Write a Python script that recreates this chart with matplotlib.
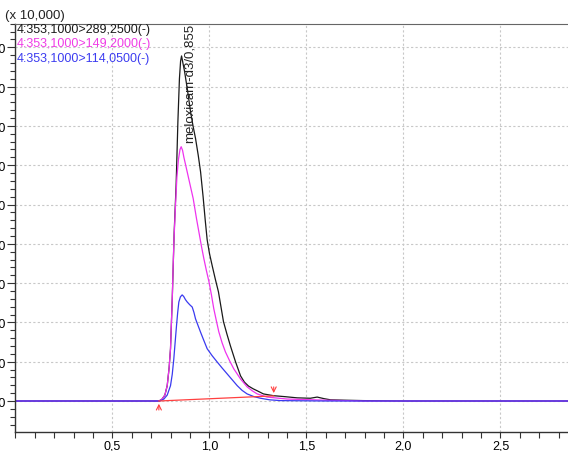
import matplotlib
matplotlib.use('Agg')
import matplotlib.pyplot as plt
from matplotlib.ticker import MultipleLocator, FuncFormatter

plt.rcParams['font.family'] = ['Liberation Sans', 'DejaVu Sans']

# retention time (min) / intensity (x 10,000)
black_t = [0.0, 0.740, 0.756, 0.770, 0.782, 0.792, 0.799, 0.808, 0.818, 0.828, 0.837,
           0.845, 0.851, 0.856, 0.863, 0.871, 0.885, 0.902, 0.915, 0.928, 0.942, 0.954,
           0.967, 0.978, 0.988, 1.000, 1.014, 1.030, 1.046, 1.059, 1.072, 1.090, 1.108,
           1.134, 1.160, 1.180, 1.201, 1.225, 1.246, 1.278, 1.330, 1.390, 1.452, 1.520,
           1.555, 1.590, 1.624, 1.700, 1.794, 2.0, 2.85]
black_y = [0.0, 0.0, 0.05, 0.15, 0.39, 0.85, 1.33, 2.6, 4.3, 5.5, 7.1,
           8.2, 8.65, 8.78, 8.6, 8.4, 7.96, 7.37, 7.0, 6.68, 6.25, 5.83,
           5.2, 4.6, 4.1, 3.75, 3.44, 3.1, 2.78, 2.4, 2.02, 1.70, 1.40,
           1.0, 0.64, 0.48, 0.38, 0.31, 0.26, 0.18, 0.135, 0.11, 0.08, 0.07,
           0.10, 0.06, 0.03, 0.02, 0.01, 0.0, 0.0]

magenta_t = [0.0, 0.740, 0.756, 0.770, 0.782, 0.792, 0.799, 0.808, 0.816, 0.824, 0.832,
             0.840, 0.848, 0.854, 0.861, 0.868, 0.885, 0.900, 0.916, 0.933, 0.945, 0.958,
             0.971, 0.984, 0.997, 1.010, 1.022, 1.035, 1.048, 1.065, 1.082, 1.104, 1.125,
             1.160, 1.194, 1.220, 1.246, 1.297, 1.40, 1.60, 1.80, 2.85]
magenta_y = [0.0, 0.0, 0.05, 0.15, 0.39, 0.85, 1.33, 2.6, 4.0, 4.9, 5.7,
             6.15, 6.4, 6.47, 6.38, 6.2, 5.83, 5.5, 5.15, 4.64, 4.31, 3.95,
             3.62, 3.32, 3.04, 2.70, 2.35, 2.05, 1.76, 1.48, 1.25, 1.02, 0.82,
             0.56, 0.36, 0.26, 0.18, 0.10, 0.05, 0.02, 0.0, 0.0]

blue_t = [0.0, 0.745, 0.765, 0.782, 0.799, 0.808, 0.816, 0.823, 0.830, 0.836, 0.842,
          0.850, 0.859, 0.867, 0.876, 0.885, 0.898, 0.911, 0.920, 0.928, 0.941, 0.954,
          0.970, 0.988, 1.014, 1.040, 1.065, 1.091, 1.117, 1.143, 1.168, 1.194, 1.230,
          1.263, 1.310, 1.366, 1.60, 2.85]
blue_y = [0.0, 0.0, 0.05, 0.15, 0.39, 0.68, 1.07, 1.50, 1.92, 2.25, 2.52,
          2.65, 2.70, 2.66, 2.58, 2.52, 2.45, 2.39, 2.25, 2.09, 1.92, 1.75,
          1.55, 1.33, 1.15, 0.99, 0.84, 0.69, 0.54, 0.39, 0.27, 0.18, 0.11,
          0.07, 0.03, 0.01, 0.0, 0.0]

# integration baseline of the peak
base_t = [0.739, 1.331]
base_y = [0.0, 0.13]

traces = [
    ("4:353,1000>289,2500(-)", black_t, black_y, "#1a1a1a", "#1a1a1a"),
    ("4:353,1000>149,2000(-)", magenta_t, magenta_y, "#ee33ee", "#f03ce6"),
    ("4:353,1000>114,0500(-)", blue_t, blue_y, "#3a3af0", "#3c3cf0"),
]
peak_label = "meloxicam-d3/0,855"
red = "#ff4040"

W, H = 568, 452
fig = plt.figure(figsize=(W / 100, H / 100), dpi=100)
ax = fig.add_axes([15.5 / W, 19 / H, (W - 15.5) / W, (433 - 24.5) / H])

for name, t, y, c, _ in traces:
    ax.plot(t, y, color=c, lw=0.9)

ax.plot(base_t, base_y, color=red, lw=0.9)
ax.annotate("", xy=(base_t[0], base_y[0]), xytext=(base_t[0], base_y[0] - 0.3),
            arrowprops=dict(arrowstyle="->", color=red, lw=0.8, mutation_scale=9))
ax.annotate("", xy=(base_t[1], base_y[1]), xytext=(base_t[1], base_y[1] + 0.3),
            arrowprops=dict(arrowstyle="->", color=red, lw=0.8, mutation_scale=9))

ax.set_xlim(0, (W - 15.5) / 194)
ax.set_ylim(-(433 - 402) / 39.3, (402 - 24.5) / 39.3)

ax.xaxis.set_major_locator(MultipleLocator(0.5))
ax.xaxis.set_minor_locator(MultipleLocator(0.1))
ax.yaxis.set_major_locator(MultipleLocator(1.0))
ax.yaxis.set_minor_locator(MultipleLocator(0.2))
ax.xaxis.set_major_formatter(
    FuncFormatter(lambda v, p: "" if abs(v) < 1e-9 else f"{v:.1f}".replace(".", ",")))
ax.yaxis.set_major_formatter(FuncFormatter(lambda v, p: f"{v:.1f}".replace(".", ",")))

ax.tick_params(axis='x', which='both', direction='out', length=4, width=0.8,
               labelsize=9, pad=1.5, color='#333333')
ax.tick_params(axis='y', which='major', direction='out', length=5.5, width=0.8,
               labelsize=9, pad=1.5, color='#333333')
ax.tick_params(axis='y', which='minor', direction='out', length=3.5, width=0.8,
               color='#333333')

ax.grid(True, which='major', color='#c8c8c8', lw=0.8, linestyle=(0, (2, 2)))
ax.spines['right'].set_visible(False)
ax.spines['top'].set_color('#666666')
for s in ['left', 'bottom']:
    ax.spines[s].set_color('#333333')
    ax.spines[s].set_linewidth(1.0)

# channel names in the top-left corner
for i, (name, t, y, _, tc) in enumerate(traces):
    fig.text(17 / W, 1 - (30 + 14.5 * i) / H, name, color=tc, fontsize=9,
             ha='left', va='center')
fig.text(5 / W, 1 - 16 / H, "(x 10,000)", fontsize=9.5, ha='left', va='center',
         color='#222222')

ax.text(0.897, 6.6, peak_label, rotation=90, fontsize=9.5, ha='center',
        va='bottom', color='#222222', clip_on=False)

fig.savefig("out.png", dpi=100)
